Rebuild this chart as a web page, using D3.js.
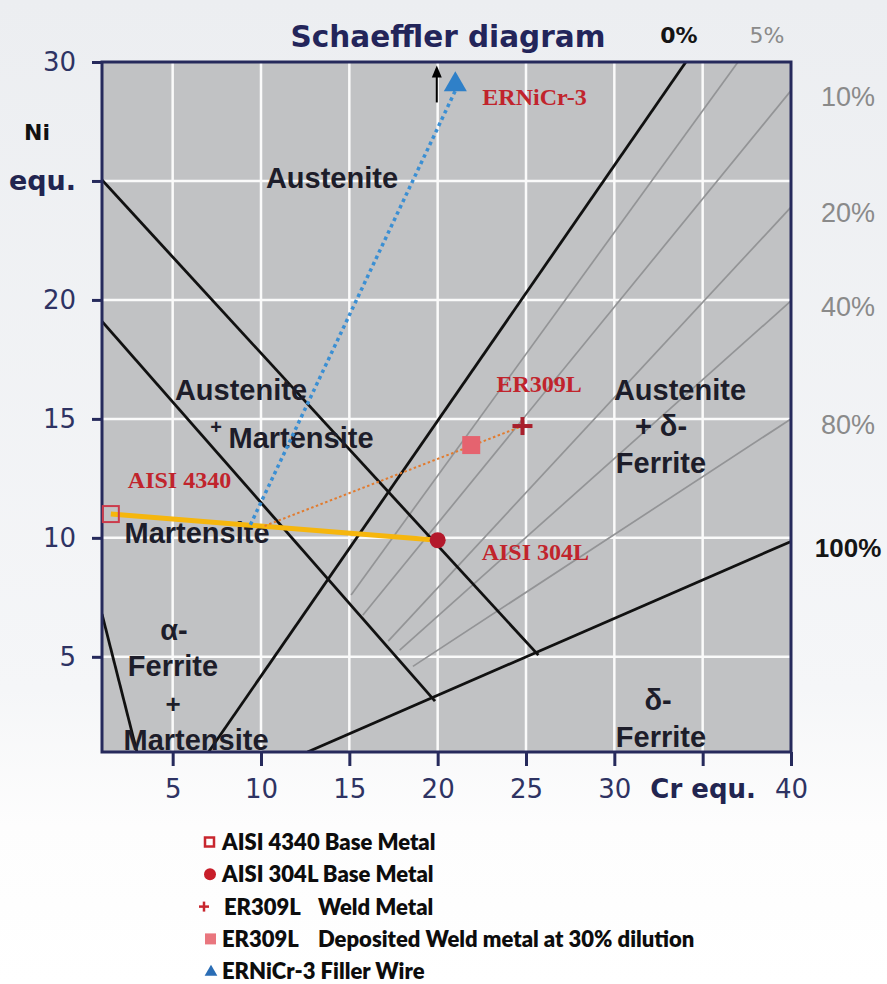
<!DOCTYPE html>
<html>
<head>
<meta charset="utf-8">
<script src="https://cdn.jsdelivr.net/npm/d3@7"></script>
<style>
  html, body { margin: 0; padding: 0; background: #ffffff; }
  svg { display: block; }
</style>
</head>
<body>
<svg id="chart" width="887" height="984"></svg>
<script>
// ---- axis ticks ----
const crTicks = [5, 10, 15, 20, 25, 30, 35, 40];
const crTickLabels = ["5", "10", "15", "20", "25", "30", "Cr equ.", "40"];
const niTicks = [5, 10, 15, 20, 25, 30];
const niTickLabels = ["5", "10", "15", "20", "equ.", "30"];

// ---- Schaeffler phase boundaries (Cr equ., Ni equ.) ----
const boundaryNames = ["A / A+M", "A+M / M", "0% ferrite", "100% ferrite", "M / F+M"];
const boundaryStart = [[1, 25.04], [1, 19.1], [7.03, 1], [12.63, 1], [1, 6.8]];
const boundaryEnd   = [[25.7, 5.07], [19.85, 3.14], [34.05, 30], [40, 9.85], [2.98, 1]];

// ---- iso-ferrite lines ----
const ferritePct   = ["5%", "10%", "20%", "40%", "80%"];
const ferriteStart = [[15.1, 7.6], [15.76, 6.75], [17.2, 5.66], [17.85, 5.28], [18.6, 4.6]];
const ferriteEnd   = [[37.0, 30], [40, 28.8], [40, 23.9], [40, 19.96], [40, 15.0]];

// ---- materials ----
const materials = ["AISI 4340", "AISI 304L", "ER309L", "ER309L 30% dilution", "ERNiCr-3"];
const materialCr = [1.5, 20.0, 24.8, 21.9, 21.0];
const materialNi = [11.0, 9.9, 14.7, 13.9, 29.05];

// mixing points on the base-metal tie line, where the filler tie lines begin
const mixCr = [9.4, 10.2];
const mixNi = [10.55, 10.5];

// ---- phase field names ----
const phaseLabels = [
  ["Austenite", 332, 188], ["Austenite", 241, 400], ["Martensite", 301, 448],
  ["Martensite", 197, 543], ["α-", 174, 640], ["Ferrite", 173, 676], ["+", 173, 713],
  ["Martensite", 196, 750], ["Austenite", 680, 400], ["+ δ-", 661, 436],
  ["Ferrite", 661, 473], ["δ-", 658, 710], ["Ferrite", 661, 747]
];

const svg = d3.select("#chart");
const W = 887, H = 984;

const x = d3.scaleLinear().domain([1, 40]).range([102, 791]);
const y = d3.scaleLinear().domain([1, 30]).range([752, 62]);

// background
const defs = svg.append("defs");
const bg = defs.append("linearGradient").attr("id", "bgGrad").attr("x1", 0).attr("y1", 0).attr("x2", 0).attr("y2", 1);
bg.append("stop").attr("offset", "0%").attr("stop-color", "#eceef1");
bg.append("stop").attr("offset", "70%").attr("stop-color", "#f5f6f8");
bg.append("stop").attr("offset", "84%").attr("stop-color", "#fdfdfd");
bg.append("stop").attr("offset", "100%").attr("stop-color", "#ffffff");
svg.append("rect").attr("width", W).attr("height", H).attr("fill", "url(#bgGrad)");

defs.append("clipPath").attr("id", "plotClip").append("rect")
  .attr("x", x(1)).attr("y", y(30)).attr("width", x(40) - x(1)).attr("height", y(1) - y(30));

// plot area
svg.append("rect")
  .attr("x", x(1)).attr("y", y(30)).attr("width", x(40) - x(1)).attr("height", y(1) - y(30))
  .attr("fill", "#c1c2c4");

// grid
const grid = svg.append("g").attr("stroke", "#fafafa").attr("stroke-width", 2.5);
grid.selectAll("line.v").data(crTicks.filter(d => d < 40)).join("line")
  .attr("x1", d => x(d)).attr("x2", d => x(d)).attr("y1", y(1)).attr("y2", y(30));
grid.selectAll("line.h").data(niTicks.filter(d => d < 30)).join("line")
  .attr("x1", x(1)).attr("x2", x(40)).attr("y1", d => y(d)).attr("y2", d => y(d));

const plot = svg.append("g").attr("clip-path", "url(#plotClip)");

// iso-ferrite lines
plot.selectAll("line.fe").data(ferritePct).join("line")
  .attr("class", "fe")
  .attr("x1", (d, i) => x(ferriteStart[i][0])).attr("y1", (d, i) => y(ferriteStart[i][1]))
  .attr("x2", (d, i) => x(ferriteEnd[i][0])).attr("y2", (d, i) => y(ferriteEnd[i][1]))
  .attr("stroke", "#939496").attr("stroke-width", 1.7);

// phase boundaries
plot.selectAll("line.pb").data(boundaryNames).join("line")
  .attr("class", "pb")
  .attr("x1", (d, i) => x(boundaryStart[i][0])).attr("y1", (d, i) => y(boundaryStart[i][1]))
  .attr("x2", (d, i) => x(boundaryEnd[i][0])).attr("y2", (d, i) => y(boundaryEnd[i][1]))
  .attr("stroke", "#111111").attr("stroke-width", 2.8);

// phase field names
svg.append("g").selectAll("text").data(phaseLabels).join("text")
  .attr("x", d => d[1]).attr("y", d => d[2])
  .attr("text-anchor", "middle")
  .attr("font-family", "'Liberation Sans', Arial, sans-serif")
  .attr("font-weight", "bold")
  .attr("font-size", d => d[0] === "+" ? 26 : 29)
  .attr("fill", "#1d1d2a")
  .text(d => d[0]);
// small plus between Austenite and Martensite
svg.append("text").attr("x", 216).attr("y", 434).attr("text-anchor", "middle")
  .attr("font-family", "'Liberation Sans', Arial, sans-serif").attr("font-weight", "bold")
  .attr("font-size", 20).attr("fill", "#1d1d2a").text("+");

// frame
svg.append("rect")
  .attr("x", x(1)).attr("y", y(30)).attr("width", x(40) - x(1)).attr("height", y(1) - y(30))
  .attr("fill", "none").attr("stroke", "#262a5c").attr("stroke-width", 3);

// axes
const xAxis = svg.append("g").attr("transform", `translate(0,${y(1)})`)
  .call(d3.axisBottom(x).tickValues(crTicks).tickSize(14).tickPadding(14)
    .tickFormat((d, i) => crTickLabels[i]));
const yAxis = svg.append("g").attr("transform", `translate(${x(1)},0)`)
  .call(d3.axisLeft(y).tickValues(niTicks).tickSize(10).tickPadding(16)
    .tickFormat((d, i) => niTickLabels[i]));
[xAxis, yAxis].forEach(g => {
  g.select(".domain").remove();
  g.selectAll(".tick line").attr("stroke", "#262a5c").attr("stroke-width", 3);
  g.selectAll(".tick text")
    .attr("font-family", "'DejaVu Sans', Verdana, sans-serif")
    .attr("font-size", 26).attr("fill", "#2e3363")
    .attr("font-weight", function () { return /equ/.test(this.textContent) ? "bold" : "normal"; });
});
yAxis.selectAll(".tick text").filter(function () { return this.textContent === "equ."; })
  .attr("font-size", 27).attr("fill", "#222550");
xAxis.selectAll(".tick text").filter(function () { return this.textContent === "Cr equ."; })
  .attr("fill", "#222550");

svg.append("text").attr("x", 24).attr("y", 140)
  .attr("font-family", "'DejaVu Sans', Verdana, sans-serif").attr("font-weight", "bold")
  .attr("font-size", 22).attr("fill", "#111").text("Ni");

// title
svg.append("text").attr("x", 448).attr("y", 47).attr("text-anchor", "middle")
  .attr("font-family", "'DejaVu Sans', Verdana, sans-serif").attr("font-weight", "bold")
  .attr("font-size", 29.5).attr("fill", "#23255a").text("Schaeffler diagram");

// ferrite % labels
const topLabel = (txt, cr, dx, bold, color) => svg.append("text")
  .attr("x", x(cr) + dx).attr("y", 43).attr("text-anchor", "middle")
  .attr("font-family", "'DejaVu Sans', Verdana, sans-serif")
  .attr("font-weight", bold ? "bold" : "normal").attr("font-size", 22)
  .attr("fill", color).text(txt);
topLabel("0%", boundaryEnd[2][0], -7, true, "#151515");
topLabel(ferritePct[0], ferriteEnd[0][0], 29, false, "#8a8a8a");

svg.append("g").selectAll("text").data(ferritePct.slice(1)).join("text")
  .attr("x", 848).attr("y", (d, i) => y(ferriteEnd[i + 1][1]) + 15)
  .attr("text-anchor", "middle")
  .attr("font-family", "'Liberation Sans', Arial, sans-serif")
  .attr("font-size", 27).attr("fill", "#8a8a8a").text(d => d);
svg.append("text").attr("x", 848).attr("y", y(boundaryEnd[3][1]) + 16)
  .attr("text-anchor", "middle")
  .attr("font-family", "'Liberation Sans', Arial, sans-serif").attr("font-weight", "bold")
  .attr("font-size", 26).attr("fill", "#151515").text("100%");

// tie lines
const P = i => [x(materialCr[i]), y(materialNi[i])];
svg.append("line")
  .attr("x1", P(0)[0]).attr("y1", P(0)[1]).attr("x2", P(1)[0]).attr("y2", P(1)[1])
  .attr("stroke", "#f6b60d").attr("stroke-width", 5);
svg.append("line")
  .attr("x1", x(mixCr[1])).attr("y1", y(mixNi[1])).attr("x2", P(2)[0]).attr("y2", P(2)[1])
  .attr("stroke", "#e27b2e").attr("stroke-width", 2).attr("stroke-dasharray", "2.5,2.5");
svg.append("line")
  .attr("x1", x(mixCr[0])).attr("y1", y(mixNi[0])).attr("x2", P(4)[0]).attr("y2", P(4)[1] + 6)
  .attr("stroke", "#3b8fd3").attr("stroke-width", 3.5).attr("stroke-dasharray", "3.5,3.5");

// markers
const mk = svg.append("g");
mk.append("rect").attr("x", P(0)[0] - 8).attr("y", P(0)[1] - 8).attr("width", 16).attr("height", 16)
  .attr("fill", "none").attr("stroke", "#cc3b4c").attr("stroke-width", 2);
mk.append("circle").attr("cx", P(1)[0]).attr("cy", P(1)[1]).attr("r", 8).attr("fill", "#b3182b");
mk.append("g").attr("transform", `translate(${P(2)[0]},${P(2)[1]})`)
  .call(g => {
    g.append("line").attr("x1", -10).attr("x2", 10).attr("stroke", "#a81f2c").attr("stroke-width", 4);
    g.append("line").attr("y1", -9).attr("y2", 9).attr("stroke", "#a81f2c").attr("stroke-width", 4);
  });
mk.append("rect").attr("x", P(3)[0] - 9).attr("y", P(3)[1] - 9).attr("width", 18).attr("height", 18)
  .attr("fill", "#e5636f");
mk.append("path").attr("transform", `translate(${P(4)[0]},${P(4)[1]})`)
  .attr("d", d3.symbol(d3.symbolTriangle, 230)()).attr("fill", "#2f80c8");

// off-scale arrow for the filler wire
const arrowCr = 19.95;
svg.append("line").attr("x1", x(arrowCr)).attr("x2", x(arrowCr))
  .attr("y1", y(28.3)).attr("y2", y(29.5)).attr("stroke", "#000").attr("stroke-width", 2);
svg.append("path")
  .attr("d", `M${x(arrowCr) - 5},${y(29.35)} L${x(arrowCr)},${y(29.85)} L${x(arrowCr) + 5},${y(29.35)} Z`)
  .attr("fill", "#000");

// material labels
const red = "#c1242c";
const labelOffsets = [[17, -26], [44, 20], [-26, -34], null, [27, 20]];
svg.append("g").selectAll("text").data(materials.filter((d, i) => labelOffsets[i])).join("text")
  .attr("x", d => P(materials.indexOf(d))[0] + labelOffsets[materials.indexOf(d)][0])
  .attr("y", d => P(materials.indexOf(d))[1] + labelOffsets[materials.indexOf(d)][1])
  .attr("font-family", "'Liberation Serif', 'Times New Roman', serif")
  .attr("font-weight", "bold").attr("font-size", 24).attr("fill", red)
  .text(d => d);

// legend
const legendNames = ["AISI 4340", "AISI 304L", "ER309L", "ER309L", "ERNiCr-3"];
const legendDesc = ["Base Metal", "Base Metal", "Weld Metal", "Deposited Weld metal at 30% dilution", "Filler Wire"];
const lg = svg.append("g").attr("font-family", "Lato, 'Open Sans', sans-serif")
  .attr("font-weight", 800).attr("font-size", 22).attr("fill", "#0d0d0d");
const rowY = i => 842 + i * 32.3;
legendNames.forEach((n, i) => {
  const t = lg.append("text").attr("x", i === 2 ? 224 : 222).attr("y", rowY(i) + 8);
  if (i === 2 || i === 3) {
    t.append("tspan").text(n);
    t.append("tspan").attr("x", 318).text(legendDesc[i]);
  } else {
    t.text(n + " " + legendDesc[i]);
  }
});
lg.append("rect").attr("x", 205).attr("y", rowY(0) - 4.5).attr("width", 9).attr("height", 9)
  .attr("fill", "none").attr("stroke", "#c8262e").attr("stroke-width", 2.5);
lg.append("circle").attr("cx", 210).attr("cy", rowY(1)).attr("r", 6).attr("fill", "#c81e2a");
lg.append("g").attr("transform", `translate(204,${rowY(2)})`).call(g => {
  g.append("line").attr("x1", -5).attr("x2", 5).attr("stroke", "#c8262e").attr("stroke-width", 2.5);
  g.append("line").attr("y1", -5).attr("y2", 5).attr("stroke", "#c8262e").attr("stroke-width", 2.5);
});
lg.append("rect").attr("x", 205).attr("y", rowY(3) - 5.5).attr("width", 11).attr("height", 11).attr("fill", "#e9767e");
lg.append("path").attr("transform", `translate(211,${rowY(4) + 1})`)
  .attr("d", d3.symbol(d3.symbolTriangle, 70)()).attr("fill", "#2a6db5");
</script>
</body>
</html>
